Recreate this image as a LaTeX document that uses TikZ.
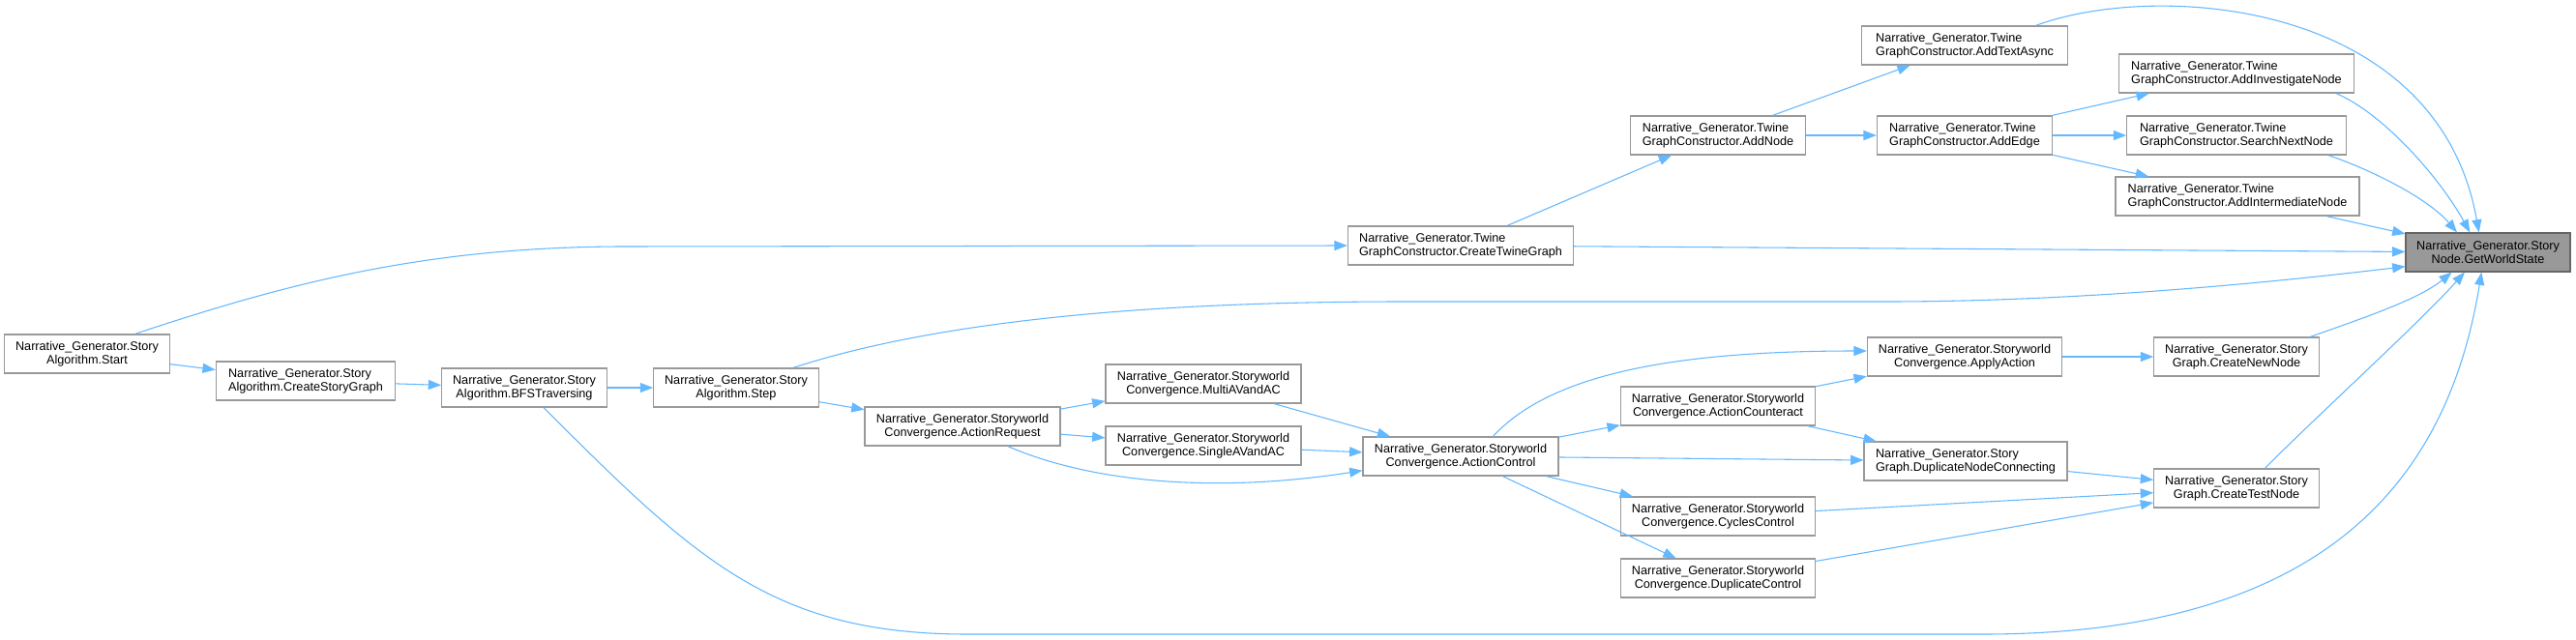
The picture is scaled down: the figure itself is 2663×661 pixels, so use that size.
\documentclass[tikz,border=0pt]{standalone}
\usepackage{fontspec}
\setmainfont{Liberation Sans}
\usepackage{tikz}
\usetikzlibrary{arrows.meta}

\definecolor{edgeblue}{HTML}{63B8FF}
\definecolor{boxgray}{HTML}{999999}
\definecolor{focusgray}{HTML}{666666}

\begin{document}
\begin{tikzpicture}[
  x=0.75pt, y=-0.75pt,
  fn/.style={rectangle, draw=boxgray, fill=white, line width=0.8pt,
             minimum height=30pt, inner xsep=2pt, align=center,
             font=\fontsize{9.5}{10.5}\selectfont},
  fnl/.style={fn, align=left},
  focus/.style={fn, fill=boxgray, draw=focusgray},
  edge/.style={draw=edgeblue, line width=0.8pt,
               -{Triangle[length=10pt,width=7.5pt]}}
]

\fill[white] (0,0) rectangle (2663,661);
\useasboundingbox (0,0) rectangle (2663,661);

%% StoryAlgorithm chain
\node[fn, minimum width=128pt] (start) at (90,366)
  {Narrative\_Generator.Story\\Algorithm.Start};
\node[fnl, minimum width=139pt] (csg) at (316,394)
  {Narrative\_Generator.Story\\Algorithm.CreateStoryGraph};
\node[fn, minimum width=128pt] (bfs) at (542,401)
  {Narrative\_Generator.Story\\Algorithm.BFSTraversing};
\node[fn, minimum width=128pt] (step) at (761,401)
  {Narrative\_Generator.Story\\Algorithm.Step};

%% StoryworldConvergence
\node[fn, minimum width=151.5pt] (areq) at (995,441)
  {Narrative\_Generator.Storyworld\\Convergence.ActionRequest};
\node[fn, minimum width=151.5pt] (multi) at (1244,397)
  {Narrative\_Generator.Storyworld\\Convergence.MultiAVandAC};
\node[fn, minimum width=151.5pt] (single) at (1244,461)
  {Narrative\_Generator.Storyworld\\Convergence.SingleAVandAC};
\node[fn, minimum width=151.5pt] (actl) at (1510,472)
  {Narrative\_Generator.Storyworld\\Convergence.ActionControl};
\node[fn, minimum width=151pt] (acnt) at (1776,420)
  {Narrative\_Generator.Storyworld\\Convergence.ActionCounteract};
\node[fn, minimum width=151pt] (cycl) at (1776,534)
  {Narrative\_Generator.Storyworld\\Convergence.CyclesControl};
\node[fn, minimum width=151pt] (dupc) at (1776,598)
  {Narrative\_Generator.Storyworld\\Convergence.DuplicateControl};
\node[fn, minimum width=151pt] (apply) at (2031,369)
  {Narrative\_Generator.Storyworld\\Convergence.ApplyAction};

%% StoryGraph
\node[fnl, minimum width=157.5pt] (dnc) at (2032,477)
  {Narrative\_Generator.Story\\Graph.DuplicateNodeConnecting};
\node[fn, minimum width=128pt] (cnn) at (2312,369)
  {Narrative\_Generator.Story\\Graph.CreateNewNode};
\node[fn, minimum width=128pt] (ctn) at (2312,505)
  {Narrative\_Generator.Story\\Graph.CreateTestNode};

%% TwineGraphConstructor
\node[fnl, minimum width=175pt] (ctg) at (1510,254)
  {Narrative\_Generator.Twine\\GraphConstructor.CreateTwineGraph};
\node[fnl, minimum width=136pt] (addn) at (1776,140)
  {Narrative\_Generator.Twine\\GraphConstructor.AddNode};
\node[fnl, minimum width=160pt] (addt) at (2031,47)
  {Narrative\_Generator.Twine\\GraphConstructor.AddTextAsync};
\node[fnl, minimum width=136pt] (adde) at (2031,140)
  {Narrative\_Generator.Twine\\GraphConstructor.AddEdge};
\node[fnl, minimum width=182pt] (ainv) at (2312,76)
  {Narrative\_Generator.Twine\\GraphConstructor.AddInvestigateNode};
\node[fnl, minimum width=170pt] (snn) at (2312,140)
  {Narrative\_Generator.Twine\\GraphConstructor.SearchNextNode};
\node[fnl, minimum width=189pt] (aint) at (2313,203)
  {Narrative\_Generator.Twine\\GraphConstructor.AddIntermediateNode};

%% Focus node
\node[focus, minimum width=127.5pt] (gws) at (2572,261)
  {Narrative\_Generator.Story\\Node.GetWorldState};

%% Straight calls
\draw[edge] (start) -- (csg);
\draw[edge] (csg) -- (bfs);
\draw[edge] (bfs) -- (step);
\draw[edge] (step) -- (areq);
\draw[edge] (areq) -- (multi);
\draw[edge] (areq) -- (single);
\draw[edge] (multi) -- (actl);
\draw[edge] (single) -- (actl);
\draw[edge] (actl) -- (acnt);
\draw[edge] (actl) -- (dnc);
\draw[edge] (actl) -- (cycl);
\draw[edge] (actl) -- (dupc);
\draw[edge] (acnt) -- (apply);
\draw[edge] (acnt) -- (dnc);
\draw[edge] (apply) -- (cnn);
\draw[edge] (dnc) -- (ctn);
\draw[edge] (cycl) -- (ctn);
\draw[edge] (dupc) -- (ctn);
\draw[edge] (ctg) -- (addn);
\draw[edge] (addn) -- (addt);
\draw[edge] (addn) -- (adde);
\draw[edge] (adde) -- (ainv);
\draw[edge] (adde) -- (snn);
\draw[edge] (adde) -- (aint);
\draw[edge] (ctg) -- (gws);
\draw[edge] (aint) -- (gws);

%% Curved calls
\draw[edge] ([xshift=37pt]start.north) .. controls (300,292) and (440,256)
  .. (640,255) -- (ctg.west);
\draw[edge] ([xshift=44pt]step.north) .. controls (950,338) and (1150,312)
  .. (1450,312) -- (1950,312) .. controls (2150,312) and (2350,292)
  .. ([yshift=-11pt]gws.west);
\draw[edge] ([xshift=15pt]bfs.south) .. controls (720,580) and (800,656)
  .. (1000,656) -- (2050,656) .. controls (2400,656) and (2530,500)
  .. ([xshift=-5pt]gws.south);
\draw[edge] ([xshift=35pt]areq.south) .. controls (1130,500) and (1260,510)
  .. ([yshift=-11pt]actl.west);
\draw[edge] ([xshift=25pt]actl.north) .. controls (1600,390) and (1720,363)
  .. ([yshift=4.5pt]apply.west);

%% Into GetWorldState
\draw[edge] ([xshift=55pt]addt.north) .. controls (2230,-20) and (2520,0)
  .. ([xshift=-7pt]gws.north);
\draw[edge] ([xshift=77pt]ainv.south) .. controls (2460,115) and (2520,180)
  .. ([xshift=-14pt]gws.north);
\draw[edge] ([xshift=71pt]snn.south) .. controls (2450,175) and (2510,205)
  .. ([xshift=-24pt]gws.north);
\draw[edge] ([xshift=57pt]cnn.north) .. controls (2440,330) and (2500,310)
  .. ([xshift=-28pt]gws.south);
\draw[edge] ([xshift=22pt]ctn.north) .. controls (2390,435) and (2500,335)
  .. ([xshift=-18pt]gws.south);

\end{tikzpicture}
\end{document}
